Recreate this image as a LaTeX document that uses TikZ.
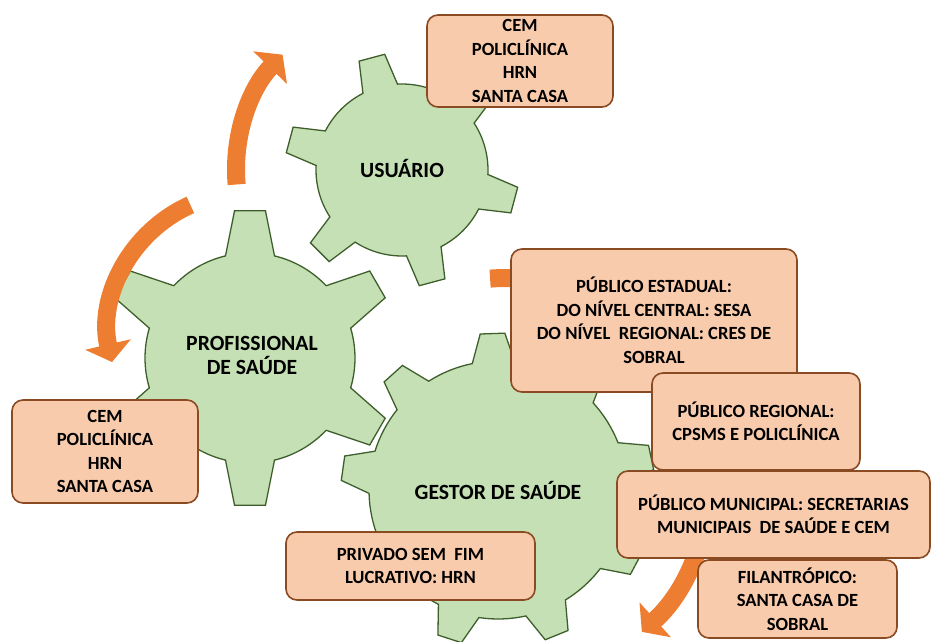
\documentclass[tikz,border=0pt]{standalone}
\usepackage{fontspec}
\setmainfont{Carlito}
\usetikzlibrary{calc,arrows.meta}
\definecolor{gearfill}{HTML}{C5E0B4}
\definecolor{gearline}{HTML}{3E5F2C}
\definecolor{boxfill}{HTML}{F8CBAD}
\definecolor{boxline}{HTML}{8A4A22}
\definecolor{arrorange}{HTML}{ED7D31}
\tikzset{
  cog/.style={fill=gearfill, draw=gearline, line width=1.3pt},
  geartext/.style={font=\fontsize{21.7}{24}\selectfont\bfseries, align=center},
  infobox/.style={fill=boxfill, draw=boxline, line width=1.6pt, rounded corners=11pt,
    align=center, inner sep=0pt, font=\fontsize{18.6}{23.5}\selectfont\bfseries},
  spinarrow/.style={draw=arrorange, line width=18pt, -{Triangle[width=46pt,length=18pt]}}
}
% gear: [style](centre)(body radius:tip radius:teeth:first angle:base half angle:tip half angle)
\def\gear[#1](#2)(#3:#4:#5:#6:#7:#8){\draw[#1] ($(#2)+({#6-#7}:#3)$)
  \foreach \k in {1,...,#5} {
    -- ($(#2)+({#6+(\k-1)*360/#5-#8}:#4)$)
    -- ($(#2)+({#6+(\k-1)*360/#5+#8}:#4)$)
    -- ($(#2)+({#6+(\k-1)*360/#5+#7}:#3)$)
    arc[start angle={#6+(\k-1)*360/#5+#7}, delta angle={360/#5-2*#7}, radius=#3]
  } -- cycle;}

\begin{document}
\begin{tikzpicture}[x=1pt,y=1pt]
		%%%%% START %%%%%
		\useasboundingbox (0,0) rectangle (932,641);
		\clip (0,0) rectangle (932,641);
		
		\coordinate (g1) at (402,471);
		\coordinate (g2) at (250,283);
		\coordinate (g3) at (498,151);
		\gear[cog](g1)(86:117:6:105:12:6.5)
		\gear[cog](g2)(105:148:6:90:13.5:6)
		\gear[cog](g3)(129:157:9:92:9.5:4.5)
		
		\node[geartext] (usuario) at (402,473) {USUÁRIO};
		\node[geartext] (profissional) at (252,286) {PROFISSIONAL\\DE SAÚDE};
		\node[geartext] (gestor) at (498,151) {GESTOR DE SAÚDE};
		
		% turning arrows
		\draw[spinarrow] ([shift={(185:166)}]g1) arc[start angle=185, end angle=136, radius=166];
		\coordinate (a2) at (246.5,310);
		\draw[spinarrow] ([shift={(114:138)}]a2) arc[start angle=114, end angle=193, radius=138];
		\coordinate (a3) at (506,160);
		\draw[spinarrow] ([shift={(94.5:203)}]a3) arc[start angle=94.5, end angle=-48, radius=203];
		
		% boxes
		\node[infobox, minimum width=186pt, minimum height=92pt] (cemU) at (520,580) {CEM\\POLICLÍNICA\\HRN\\SANTA CASA};
		\node[infobox, minimum width=186pt, minimum height=103pt] (cemP) at (105,189.5) {CEM\\POLICLÍNICA\\HRN\\SANTA CASA};
		\node[infobox, minimum width=286pt, minimum height=143pt] (estadual) at (654,320.5) {PÚBLICO ESTADUAL:\\DO NÍVEL CENTRAL: SESA\\DO NÍVEL\ \ REGIONAL: CRES DE\\SOBRAL};
		\node[infobox, minimum width=208pt, minimum height=97pt] (regional) at (756,219.5) {PÚBLICO REGIONAL:\\CPSMS E POLICLÍNICA};
		\node[infobox, minimum width=313pt, minimum height=87pt] (municipal) at (773.5,126.5) {PÚBLICO MUNICIPAL: SECRETARIAS\\MUNICIPAIS\ \ DE SAÚDE E CEM};
		\node[infobox, minimum width=199pt, minimum height=78pt] (filantropico) at (797.5,42) {FILANTRÓPICO:\\SANTA CASA DE\\SOBRAL};
		\node[infobox, minimum width=249pt, minimum height=68pt] (privado) at (410.5,75) {PRIVADO SEM\ \ FIM\\LUCRATIVO: HRN};
		
		%%%%% END %%%%%
\end{tikzpicture}
\end{document}
